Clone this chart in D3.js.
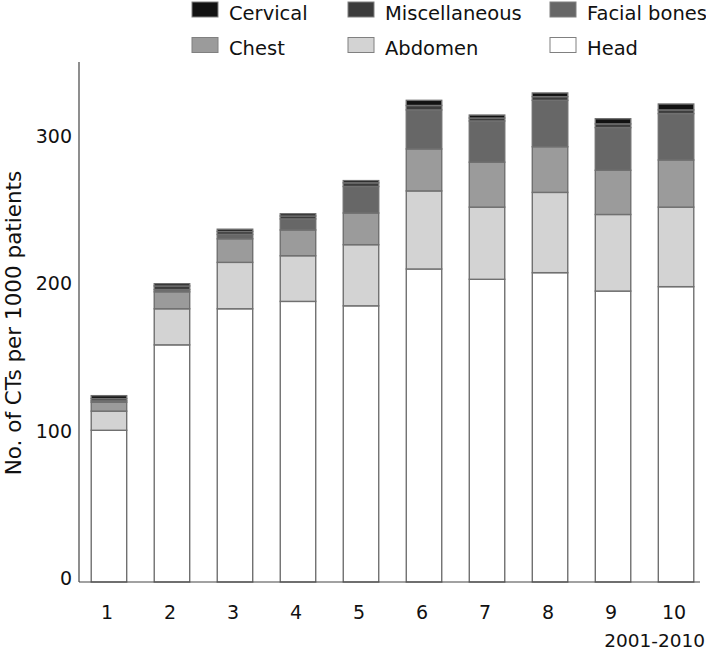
<!DOCTYPE html>
<html>
<head>
<meta charset="utf-8">
<script src="https://cdn.jsdelivr.net/npm/d3@7"></script>
<style>
  html, body { margin: 0; padding: 0; background: #fff; }
  svg text { font-family: "DejaVu Sans", sans-serif; fill: #111; }
</style>
</head>
<body>
<div id="chart"></div>
<script>
// CT counts per 1000 patients, 2001-2010, by region
const years = ['1', '2', '3', '4', '5', '6', '7', '8', '9', '10'];
const head = [103, 161, 185.5, 190.5, 187.5, 212.5, 205.5, 210, 197.5, 200.5];
const abdomen = [13, 24.5, 31.5, 31, 41.5, 53, 49, 54.5, 52, 54];
const chest = [6, 11.5, 16, 17.5, 21.5, 28.5, 30.5, 31, 30, 32];
const facialBones = [1, 1.5, 3, 7.5, 18, 26.5, 28, 31.5, 29, 31.5];
const miscellaneous = [1.5, 2.5, 2, 2, 2.5, 3, 2, 2.5, 2.5, 2.5];
const cervical = [2, 1.5, 1.5, 1.5, 1.5, 3.5, 2, 2.5, 3.5, 4];
const yTicks = [0, 100, 200, 300];
const yTop = 353;

// bottom-up stacking order
const seriesKeys = ['Head', 'Abdomen', 'Chest', 'Facial bones', 'Miscellaneous', 'Cervical'];
const seriesValues = [head, abdomen, chest, facialBones, miscellaneous, cervical];
const fills = {
  'Head': '#ffffff',
  'Abdomen': '#d3d3d3',
  'Chest': '#9b9b9b',
  'Facial bones': '#676767',
  'Miscellaneous': '#3c3c3c',
  'Cervical': '#121212'
};

// legend reads row by row, top-left first
const legendRows = [
  ['Cervical', 'Miscellaneous', 'Facial bones'],
  ['Chest', 'Abdomen', 'Head']
];

const W = 706, H = 650;
const svg = d3.select('#chart').append('svg')
  .attr('width', W)
  .attr('height', H);

const rows = years.map((yr, i) => {
  const r = {year: yr};
  seriesKeys.forEach((k, j) => { r[k] = seriesValues[j][i]; });
  return r;
});

const stacked = d3.stack().keys(seriesKeys)(rows);

const x = d3.scaleBand()
  .domain(years)
  .range([79, 706])
  .paddingInner(0.437)
  .paddingOuter(0.194);

const y = d3.scaleLinear()
  .domain([0, 300])
  .range([582, 140.1]);

// bars
svg.append('g')
  .selectAll('g')
  .data(stacked)
  .enter()
  .append('g')
  .attr('fill', d => fills[d.key])
  .selectAll('rect')
  .data(d => d)
  .enter()
  .append('rect')
  .attr('x', d => x(d.data.year))
  .attr('y', d => y(d[1]))
  .attr('width', x.bandwidth())
  .attr('height', d => y(d[0]) - y(d[1]))
  .attr('stroke', '#707070')
  .attr('stroke-width', 1.4);

// axes: plain lines, labels without tick marks
const axes = svg.append('g');
axes.append('line')
  .attr('x1', 79).attr('x2', 79)
  .attr('y1', y(yTop)).attr('y2', y(0))
  .attr('stroke', '#444').attr('stroke-width', 1.2);
axes.append('line')
  .attr('x1', 79).attr('x2', 700)
  .attr('y1', y(0)).attr('y2', y(0))
  .attr('stroke', '#444').attr('stroke-width', 1.2);

axes.selectAll('text.ytick')
  .data(yTicks)
  .enter()
  .append('text')
  .attr('class', 'ytick')
  .attr('x', 72)
  .attr('y', d => y(d) + 3)
  .attr('text-anchor', 'end')
  .style('font-size', '19px')
  .text(d => d);

axes.selectAll('text.xtick')
  .data(years)
  .enter()
  .append('text')
  .attr('class', 'xtick')
  .attr('x', d => x(d) + x.bandwidth() / 2 - 2)
  .attr('y', 619)
  .attr('text-anchor', 'middle')
  .style('font-size', '19px')
  .text(d => d);

svg.append('text')
  .attr('x', 705)
  .attr('y', 647)
  .attr('text-anchor', 'end')
  .style('font-size', '18.5px')
  .text('2001-2010');

svg.append('text')
  .attr('transform', 'translate(21,323) rotate(-90)')
  .attr('text-anchor', 'middle')
  .style('font-size', '21.5px')
  .text('No. of CTs per 1000 patients');

// legend
const colX = [192, 348, 550];
const rowBase = [19.5, 55];
const legend = svg.append('g');
legendRows.forEach((row, ri) => {
  row.forEach((key, ci) => {
    legend.append('rect')
      .attr('x', colX[ci])
      .attr('y', rowBase[ri] - 17.5)
      .attr('width', 26)
      .attr('height', 15)
      .attr('fill', fills[key])
      .attr('stroke', '#808080')
      .attr('stroke-width', 1);
    legend.append('text')
      .attr('x', colX[ci] + 37)
      .attr('y', rowBase[ri])
      .style('font-size', '19.5px')
      .text(key);
  });
});
</script>
</body>
</html>
